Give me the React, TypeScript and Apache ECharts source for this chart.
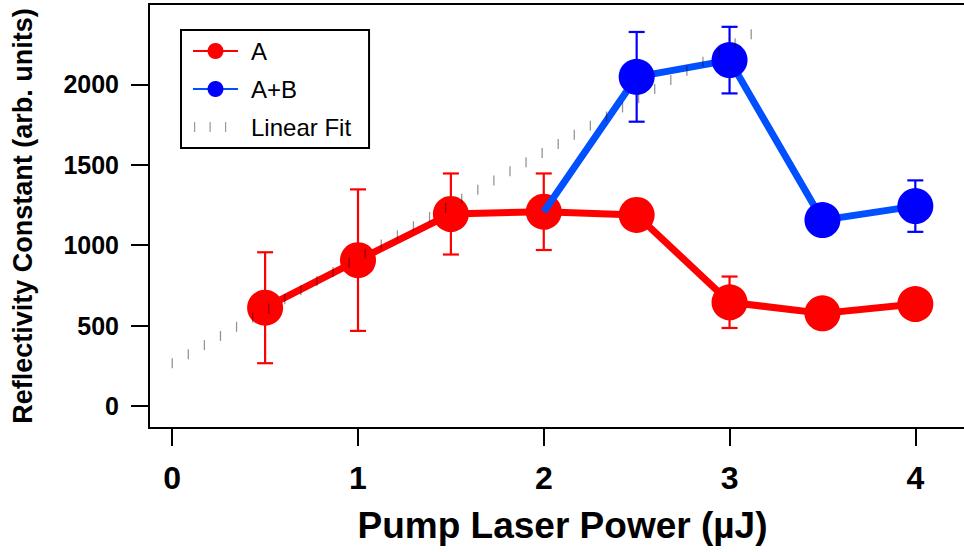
import React, { useEffect, useRef } from "react";
import * as echarts from "echarts";

// Series A
const powerA = [0.5, 1, 1.5, 2, 2.5, 3, 3.5, 4];
const constA = [611, 907, 1194, 1208, 1188, 645, 576, 634];
const errA = [345, 440, 252, 238, 0, 160, 0, 0];

// Series A+B (starts from the A point at 2 µJ)
const powerAB = [2, 2.5, 3, 3.5, 4];
const constAB = [1208, 2047, 2151, 1156, 1243];
const errAB = [0, 279, 207, 0, 160];

// Linear fit end points
const fitPower = [0, 3.15];
const fitConst = [265, 2334];

const xTicks = [0, 1, 2, 3, 4];
const yTicks = [0, 500, 1000, 1500, 2000];

const FONT = "'Liberation Sans', Arial, Helvetica, sans-serif";
const FIT_COLOR = "rgba(0,0,0,0.42)";

// three short vertical strokes, with invisible corner specks fixing the icon box
const FIT_ICON =
  "path://M0,0h0.01v0.01h-0.01Z M45,20h-0.01v-0.01h0.01Z " +
  "M1,5h1.2v10h-1.2Z M16.5,5h1.2v10h-1.2Z M32,5h1.2v10h-1.2Z";

function errorBarSeries(xs: number[], ys: number[], es: number[], color: string, z: number) {
  const data = xs
    .map((x, i) => [x, ys[i] - es[i], ys[i] + es[i], es[i]])
    .filter((d) => d[3] > 0);
  return {
    type: "custom",
    data,
    z,
    silent: true,
    encode: { x: 0, y: [1, 2] },
    renderItem: (_params: any, api: any) => {
      const lo = api.coord([api.value(0), api.value(1)]);
      const hi = api.coord([api.value(0), api.value(2)]);
      const w = 8;
      const style = { stroke: color, lineWidth: 2.2 };
      return {
        type: "group",
        children: [
          { type: "line", shape: { x1: lo[0], y1: lo[1], x2: hi[0], y2: hi[1] }, style },
          { type: "line", shape: { x1: lo[0] - w, y1: lo[1], x2: lo[0] + w, y2: lo[1] }, style },
          { type: "line", shape: { x1: hi[0] - w, y1: hi[1], x2: hi[0] + w, y2: hi[1] }, style },
        ],
      };
    },
  };
}

// Fit segment drawn as a row of short vertical strokes
const fitSeries = {
  name: "Linear Fit",
  type: "custom",
  z: 6,
  silent: true,
  itemStyle: { color: FIT_COLOR },
  data: [[fitPower[0], fitConst[0], fitPower[1], fitConst[1]]],
  encode: { x: [0, 2], y: [1, 3] },
  renderItem: (_params: any, api: any) => {
    const p0 = api.coord([api.value(0), api.value(1)]);
    const p1 = api.coord([api.value(2), api.value(3)]);
    const dx = p1[0] - p0[0];
    const dy = p1[1] - p0[1];
    const len = Math.sqrt(dx * dx + dy * dy);
    const step = 18.5;
    const n = Math.floor(len / step);
    const children: any[] = [];
    for (let k = 0; k <= n; k++) {
      const t = (k * step) / len;
      const px = p0[0] + dx * t;
      const py = p0[1] + dy * t;
      children.push({
        type: "line",
        shape: { x1: px, y1: py - 5, x2: px, y2: py + 5 },
        style: { stroke: FIT_COLOR, lineWidth: 1.3 },
      });
    }
    return { type: "group", children };
  },
};

export default function App() {
  const ref = useRef<HTMLDivElement>(null);

  useEffect(() => {
    if (!ref.current) return;
    const chart = echarts.init(ref.current, undefined, { renderer: "svg" });

    const xMin = -0.125;
    const xMax = 4.262;
    const axisLineStyle = { color: "#000", width: 2 };

    chart.setOption({
      animation: false,
      backgroundColor: "#fff",
      textStyle: { fontFamily: FONT },
      grid: { left: 149, top: 4, right: 0, bottom: 124, containLabel: false },
      legend: {
        data: [
          "A",
          "A+B",
          { name: "Linear Fit", icon: FIT_ICON, itemStyle: { color: "#999" } },
        ],
        orient: "vertical",
        left: 181,
        top: 30,
        padding: [9, 18, 9, 11],
        itemWidth: 45,
        itemHeight: 20,
        itemGap: 14,
        borderColor: "#000",
        borderWidth: 2,
        backgroundColor: "#fff",
        lineStyle: { width: 2 },
        textStyle: {
          fontFamily: FONT,
          fontSize: 24,
          color: "#000",
          lineHeight: 20,
          padding: [0, 0, 0, 8],
        },
      },
      xAxis: [
        {
          type: "value",
          min: xMin,
          max: xMax,
          axisLine: { show: true, onZero: false, lineStyle: axisLineStyle },
          axisTick: { show: true, length: 18, customValues: xTicks, lineStyle: axisLineStyle },
          axisLabel: {
            customValues: xTicks,
            fontSize: 32,
            fontWeight: "bold",
            color: "#000",
            margin: 34,
            fontFamily: FONT,
          },
          splitLine: { show: false },
          name: "Pump Laser Power (µJ)",
          nameLocation: "middle",
          nameGap: 79,
          nameTextStyle: {
            fontSize: 37,
            fontWeight: "bold",
            color: "#000",
            fontFamily: FONT,
            padding: [0, 0, 0, 12],
          },
        },
        {
          type: "value",
          position: "top",
          min: xMin,
          max: xMax,
          axisLine: { show: true, onZero: false, lineStyle: axisLineStyle },
          axisTick: { show: false },
          axisLabel: { show: false },
          splitLine: { show: false },
        },
      ],
      yAxis: {
        type: "value",
        min: -137,
        max: 2500,
        axisLine: { show: true, onZero: false, lineStyle: axisLineStyle },
        axisTick: { show: true, length: 18, customValues: yTicks, lineStyle: axisLineStyle },
        axisLabel: {
          customValues: yTicks,
          formatter: (v: number) => String(v),
          fontSize: 25,
          fontWeight: "bold",
          color: "#000",
          margin: 30,
          fontFamily: FONT,
        },
        splitLine: { show: false },
        name: "Reflectivity Constant (arb. units)",
        nameLocation: "middle",
        nameGap: 113,
        nameTextStyle: { fontSize: 27, fontWeight: "bold", color: "#000", fontFamily: FONT },
      },
      series: [
        errorBarSeries(powerA, constA, errA, "#ff0000", 2),
        {
          name: "A",
          type: "line",
          z: 3,
          data: powerA.map((x, i) => [x, constA[i]]),
          symbol: "circle",
          symbolSize: 36,
          lineStyle: { color: "#ff0000", width: 7 },
          itemStyle: { color: "#ff0000" },
        },
        errorBarSeries(powerAB, constAB, errAB, "#0000ff", 4),
        {
          name: "A+B",
          type: "line",
          z: 5,
          data: powerAB.map((x, i) =>
            i === 0 ? { value: [x, constAB[i]], symbol: "none" } : [x, constAB[i]]
          ),
          symbol: "circle",
          symbolSize: 36,
          lineStyle: { color: "#0050ff", width: 7 },
          itemStyle: { color: "#0000ff" },
        },
        fitSeries,
      ],
    });

    return () => chart.dispose();
  }, []);

  return (
    <div
      ref={ref}
      style={{ position: "fixed", left: 0, top: 0, width: 964, height: 552 }}
    />
  );
}
